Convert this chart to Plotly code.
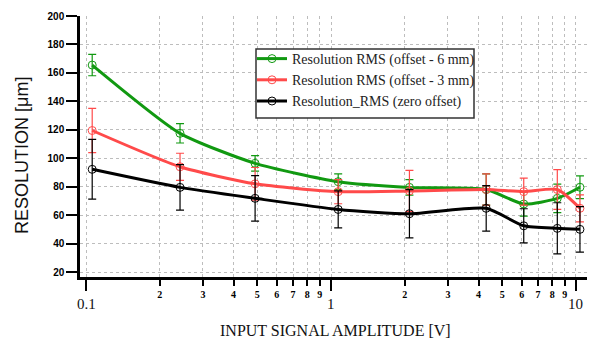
import math
import plotly.graph_objects as go

# ---- data ----
amplitude_v = [0.106, 0.242, 0.49, 1.07, 2.09, 4.3, 6.12, 8.39, 10.38]

res_offset6 = [165.5, 117.5, 96.4, 83.5, 79.5, 78.0, 67.8, 71.8, 79.6]
err_offset6 = [7.5, 6.8, 5.5, 5.5, 5.5, 11.0, 8.5, 10.0, 8.0]

res_offset3 = [119.5, 94.0, 82.0, 76.5, 77.0, 78.0, 76.5, 78.0, 64.8]
err_offset3 = [15.5, 9.5, 11.5, 8.5, 14.5, 11.0, 9.5, 14.0, 9.5]

res_zero = [92.2, 79.5, 71.8, 64.0, 61.0, 64.8, 52.5, 50.7, 50.0]
err_zero = [21.0, 16.0, 16.0, 13.0, 17.0, 16.0, 12.0, 18.0, 16.0]

series_names = ["Resolution RMS (offset - 6 mm)",
                "Resolution RMS (offset - 3 mm)",
                "Resolution_RMS (zero offset)"]
series_colors = ["#119911", "#ff4a4a", "#000000"]

minor_tick_vals = [0.2, 0.3, 0.4, 0.5, 0.6, 0.7, 0.8, 0.9,
                   2, 3, 4, 5, 6, 7, 8, 9]
minor_tick_text = ["2", "3", "4", "5", "6", "7", "8", "9"] * 2
decade_tick_vals = [0.1, 1, 10]
decade_tick_text = ["0.1", "1", "10"]
y_tick_vals = [20, 40, 60, 80, 100, 120, 140, 160, 180, 200]

# ---- figure ----
fig = go.Figure()
for name, color, ys, es in zip(series_names, series_colors,
                               [res_offset6, res_offset3, res_zero],
                               [err_offset6, err_offset3, err_zero]):
    fig.add_trace(go.Scatter(
        x=amplitude_v, y=ys, name=name, mode="lines+markers",
        line=dict(color=color, width=3, shape="spline", smoothing=0.6),
        marker=dict(symbol="circle-open", size=8, color=color,
                    line=dict(width=1, color=color)),
        error_y=dict(type="data", array=es, visible=True, color=color,
                     thickness=1.2, width=4),
    ))

# page has an 8px body margin: the figure starts at (8, 8) in the window
OFF = 8
W, H = 595 - OFF, 342 - OFF
L, R, T, B = 80 - OFF, 0, 16 - OFF, 65
pw, ph = W - L - R, H - T - B


def px_x(px):
    """window pixel x -> paper x"""
    return (px - OFF - L) / pw


def px_y(py):
    """window pixel y -> paper y"""
    return (H - B - (py - OFF)) / ph


grid = dict(showgrid=True, gridcolor="#bdbdbd", griddash="dot", gridwidth=1)

fig.update_layout(
    width=W, height=H, autosize=False,
    margin=dict(l=L, r=R, t=T, b=B, autoexpand=False),
    paper_bgcolor="white", plot_bgcolor="white",
    showlegend=True,
    legend=dict(x=px_x(252), y=px_y(43), xanchor="left", yanchor="top",
                bgcolor="rgba(0,0,0,0)", borderwidth=0,
                font=dict(family="Liberation Serif", size=14, color="#222"),
                tracegroupgap=0),
    xaxis=dict(type="log", range=[-1.0245, 1.0776], automargin=False,
               tickmode="array", tickvals=minor_tick_vals,
               ticktext=minor_tick_text,
               ticks="outside", ticklen=6, tickwidth=2, tickcolor="black",
               tickfont=dict(family="Liberation Serif", size=10,
                             color="black", weight="bold"),
               showline=True, linewidth=2.5, linecolor="black",
               zeroline=False,
               minor=dict(tickmode="array", tickvals=decade_tick_vals,
                          ticks="outside", ticklen=11, tickwidth=2,
                          tickcolor="black", **grid),
               **grid),
    yaxis=dict(range=[16.5, 200], tickmode="array", tickvals=y_tick_vals,
               automargin=False,
               ticks="outside", ticklen=11, tickwidth=2, tickcolor="black",
               tickfont=dict(family="Liberation Sans", size=10,
                             color="black", weight="bold"),
               showline=True, linewidth=2.5, linecolor="black",
               zeroline=False, **grid),
)

# legend frame (white box drawn over the plot lines)
fig.add_shape(type="rect", xref="paper", yref="paper",
              x0=px_x(256), x1=px_x(474), y0=px_y(118), y1=px_y(49),
              line=dict(color="#333", width=1.5), fillcolor="white",
              layer="above")

# decade labels
for v, t in zip(decade_tick_vals, decade_tick_text):
    fig.add_annotation(x=math.log10(v), y=px_y(304), xref="x", yref="paper",
                       text=t, showarrow=False, xanchor="center",
                       yanchor="middle",
                       font=dict(family="Liberation Serif", size=15,
                                 color="#111"))

# axis titles
fig.add_annotation(x=px_x(335), y=px_y(330), xref="paper", yref="paper",
                   text="INPUT SIGNAL AMPLITUDE [V]", showarrow=False,
                   xanchor="center", yanchor="middle",
                   font=dict(family="Liberation Serif", size=16, color="#111"))
fig.add_annotation(x=px_x(22), y=px_y(156), xref="paper", yref="paper",
                   text="RESOLUTION [μm]", showarrow=False, textangle=-90,
                   xanchor="center", yanchor="middle",
                   font=dict(family="Liberation Sans", size=18, color="#111"))

fig.write_html("out.html")
